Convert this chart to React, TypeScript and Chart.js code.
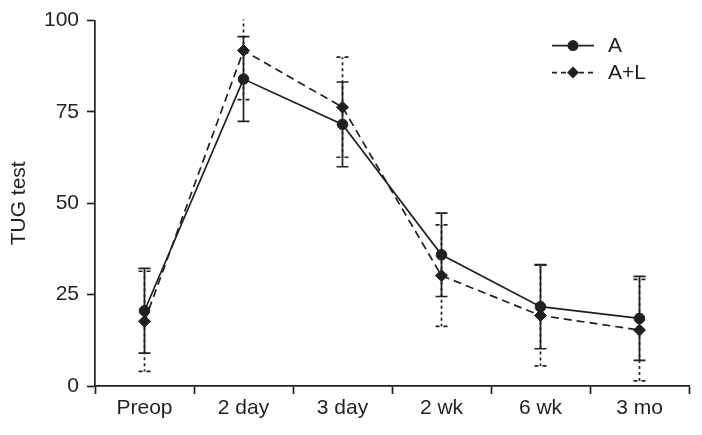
import React, { useEffect, useRef } from "react";
import { Chart, registerables } from "chart.js";

Chart.register(...registerables);

const categories = ["Preop", "2 day", "3 day", "2 wk", "6 wk", "3 mo"];
const seriesA = [20.6, 84.0, 71.6, 35.9, 21.7, 18.5];
const errA = [11.6, 11.6, 11.6, 11.4, 11.5, 11.5];
const seriesAL = [17.7, 91.8, 76.3, 30.2, 19.3, 15.3];
const errAL = [13.7, 13.4, 13.7, 13.9, 13.8, 13.9];
const yTickValues = [0, 25, 50, 75, 100];
const seriesLabels = ["A", "A+L"];

const INK = "#231f20";
const FONT = "'Liberation Sans', Arial, Helvetica, sans-serif";

const errorBarPlugin = {
  id: "errorBars",
  beforeDatasetsDraw(chart: any) {
    const ctx = chart.ctx;
    const xs = chart.scales.x;
    const ys = chart.scales.y;
    const area = chart.chartArea;
    ctx.save();
    ctx.beginPath();
    ctx.rect(area.left, area.top - 1, area.right - area.left, area.bottom - area.top + 2);
    ctx.clip();
    ctx.strokeStyle = INK;
    ctx.lineWidth = 1.7;
    const sets = [
      { mean: seriesAL, err: errAL, dash: [3, 3], capDash: [4, 4] },
      { mean: seriesA, err: errA, dash: [], capDash: [] },
    ];
    const cap = 6;
    for (const s of sets) {
      s.mean.forEach((m, i) => {
        const x = xs.getPixelForValue(i);
        const yTop = ys.getPixelForValue(m + s.err[i]);
        const yBot = ys.getPixelForValue(m - s.err[i]);
        const yMid = ys.getPixelForValue(m);
        ctx.setLineDash(s.dash);
        ctx.beginPath();
        ctx.moveTo(x, yMid);
        ctx.lineTo(x, yTop);
        ctx.moveTo(x, yMid);
        ctx.lineTo(x, yBot);
        ctx.stroke();
        ctx.setLineDash(s.capDash);
        ctx.beginPath();
        ctx.moveTo(x - cap, yTop);
        ctx.lineTo(x + cap, yTop);
        ctx.moveTo(x - cap, yBot);
        ctx.lineTo(x + cap, yBot);
        ctx.stroke();
      });
    }
    ctx.restore();
  },
};

const legendPlugin = {
  id: "customLegend",
  afterDraw(chart: any) {
    const ctx = chart.ctx;
    const area = chart.chartArea;
    const x0 = area.right - 137;
    const x1 = area.right - 95;
    const xm = area.right - 116;
    const xt = area.right - 81;
    const rows = [area.top + 25, area.top + 52];
    ctx.save();
    ctx.strokeStyle = INK;
    ctx.fillStyle = INK;
    ctx.lineWidth = 1.7;
    seriesLabels.forEach((label, i) => {
      const y = rows[i];
      ctx.setLineDash(i === 0 ? [] : [5, 4]);
      ctx.beginPath();
      ctx.moveTo(x0, y);
      ctx.lineTo(x1, y);
      ctx.stroke();
      ctx.setLineDash([]);
      ctx.beginPath();
      if (i === 0) {
        ctx.arc(xm, y, 5.5, 0, Math.PI * 2);
      } else {
        ctx.moveTo(xm, y - 6);
        ctx.lineTo(xm + 6, y);
        ctx.lineTo(xm, y + 6);
        ctx.lineTo(xm - 6, y);
        ctx.closePath();
      }
      ctx.fill();
      ctx.font = `21px ${FONT}`;
      ctx.textBaseline = "middle";
      ctx.textAlign = "left";
      ctx.fillText(label, xt, y + 1);
    });
    ctx.restore();
  },
};

export default function App() {
  const ref = useRef<HTMLCanvasElement>(null);
  useEffect(() => {
    document.body.style.margin = "0";
    if (!ref.current) return;
    const chart = new Chart(ref.current, {
      type: "line",
      data: {
        labels: categories,
        datasets: [
          {
            label: seriesLabels[1],
            data: seriesAL,
            borderColor: INK,
            backgroundColor: INK,
            borderWidth: 1.7,
            borderDash: [8, 5],
            pointStyle: "rectRot",
            pointRadius: 6,
            pointBorderWidth: 1,
            tension: 0,
          },
          {
            label: seriesLabels[0],
            data: seriesA,
            borderColor: INK,
            backgroundColor: INK,
            borderWidth: 1.7,
            pointStyle: "circle",
            pointRadius: 5.3,
            pointBorderWidth: 1,
            tension: 0,
          },
        ],
      },
      options: {
        responsive: false,
        animation: false,
        layout: { padding: { top: 19, right: 13, bottom: 0, left: 0 } },
        plugins: {
          legend: { display: false },
          tooltip: { enabled: false },
        },
        scales: {
          x: {
            type: "category",
            offset: true,
            grid: {
              offset: true,
              drawOnChartArea: false,
              drawTicks: true,
              tickLength: 8,
              tickColor: INK,
              tickWidth: 1.7,
            },
            border: { display: true, color: INK, width: 1.7 },
            ticks: {
              color: INK,
              font: { family: FONT, size: 21 },
              padding: 2,
              maxRotation: 0,
            },
            afterFit: (s: any) => {
              s.height = 49;
            },
          },
          y: {
            min: 0,
            max: 100,
            afterBuildTicks: (s: any) => {
              s.ticks = yTickValues.map((v) => ({ value: v }));
            },
            grid: {
              drawOnChartArea: false,
              drawTicks: true,
              tickLength: 8,
              tickColor: INK,
              tickWidth: 1.7,
            },
            border: { display: true, color: INK, width: 1.7 },
            ticks: {
              color: INK,
              font: { family: FONT, size: 21 },
              padding: 8,
            },
            title: {
              display: true,
              text: "TUG test",
              color: INK,
              font: { family: FONT, size: 21 },
              padding: { top: 7, bottom: 0 },
            },
            afterFit: (s: any) => {
              s.width = 95;
            },
          },
        },
      },
      plugins: [errorBarPlugin, legendPlugin],
    });
    return () => chart.destroy();
  }, []);
  return (
    <div style={{ width: 702, height: 435 }}>
      <canvas ref={ref} width={702} height={435} />
    </div>
  );
}
